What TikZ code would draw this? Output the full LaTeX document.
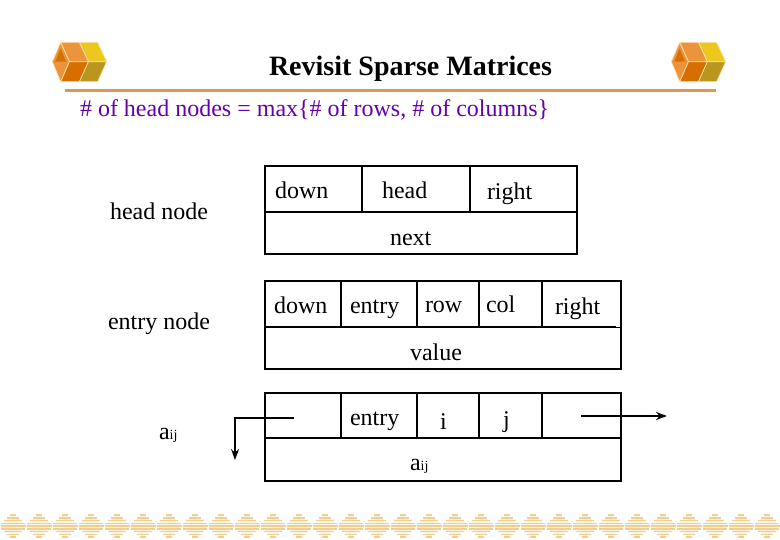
\documentclass[tikz,border=0pt]{standalone}
\usepackage{fontspec}
\setmainfont{Liberation Serif}
\definecolor{rulecol}{RGB}{222,152,84}
\definecolor{purp}{RGB}{102,0,170}
\definecolor{hexlight}{RGB}{236,148,60}
\definecolor{hexdark}{RGB}{214,110,0}
\definecolor{hexyellow}{RGB}{236,200,30}
\definecolor{hexolive}{RGB}{186,150,30}
\definecolor{hexedge}{RGB}{255,225,170}
\definecolor{stripe}{RGB}{238,206,145}
\definecolor{stripebg}{RGB}{252,243,225}
\tikzset{
  x=1pt,y=-1pt,
  lab/.style={anchor=base west,inner sep=0pt,outer sep=0pt,font=\fontsize{24}{24}\selectfont,text=black},
  ttl/.style={anchor=base west,inner sep=0pt,outer sep=0pt,font=\fontsize{28}{28}\selectfont\bfseries,text=black},
  sub/.style={anchor=base west,inner sep=0pt,outer sep=0pt,font=\fontsize{24}{24}\selectfont,text=purp},
  cell/.style={draw=black,line width=2pt,line join=miter},
  ptr/.style={draw=black,line width=1.6pt,-{Stealth[length=11pt,width=8pt]}},
  face/.style={draw=hexedge,line width=0.7pt,line join=round},
  stripeline/.style={draw=stripe,line width=1.5pt},
  headrule/.style={draw=rulecol,line width=3pt},
  logo/.pic={
    \begin{scope}[x=0.3333pt,y=-0.3333pt]
    \path[face,fill=hexyellow] (148,37)--(203,37)--(230,95)--(175,95)--cycle;
    \path[face,fill=hexolive] (175,95)--(230,95)--(203,155)--(148,155)--cycle;
    \path[face,fill=hexlight] (92,37)--(148,37)--(175,95)--(118,95)--cycle;
    \path[face,fill=hexdark] (118,95)--(175,95)--(148,155)--(92,155)--cycle;
    \path[face,fill=hexlight] (67,95)--(92,37)--(118,95)--(92,155)--cycle;
    \path[fill=hexdark] (92,55)--(108,95)--(76,95)--cycle;
    \end{scope}
  }
}
\usetikzlibrary{arrows.meta}
\newcommand{\aij}{a{\fontsize{14}{14}\selectfont ij}}
\begin{document}
\begin{tikzpicture}
\useasboundingbox (0,0) rectangle (780,540);
\pic at (30,30) {logo};
\pic at (649,30) {logo};
\draw[headrule] (65,90.5) -- (716,90.5);
\foreach \k in {0,...,29}{
  \pgfmathsetmacro{\cx}{13+26*\k}
  \fill[stripebg] (\cx-12.5,526) -- (\cx,514) -- (\cx+12.5,526) -- (\cx,538) -- cycle;
  \foreach \d in {-11,-8.25,-5.5,-2.75,0,2.75,5.5,8.25,11}{
    \pgfmathsetmacro{\hw}{min(12.5,14.5-abs(\d)*1.05)}
    \draw[stripeline] (\cx-\hw,526+\d) -- (\cx+\hw,526+\d);
  }
}
\node[ttl] (title) at (269,76) {Revisit Sparse Matrices};
\node[sub] (subt) at (80,117) {\# of head nodes = max\{\# of rows, \# of columns\}};
\node[lab] (hn) at (110,220) {head node};
\draw[cell] (265,166) rectangle (577,254);
\draw[cell] (265,212) -- (577,212);
\draw[cell] (362,166) -- (362,212);
\draw[cell] (470,166) -- (470,212);
\node[lab] (h1) at (275,199) {down};
\node[lab] (h2) at (382,199) {head};
\node[lab] (h3) at (487,200) {right};
\node[lab] (h4) at (390,246) {next};
\node[lab] (en) at (108,330) {entry node};
\draw[cell] (265,281) rectangle (621,369);
\draw[cell] (265,327) -- (616,327);
\draw[black,line width=0.8pt] (616,327) -- (621,327);
\foreach \x in {341,417,479,542}{\draw[cell] (\x,281) -- (\x,327);}
\node[lab] (e1) at (274,314) {down};
\node[lab] (e2) at (350,314) {entry};
\node[lab] (e3) at (425,313) {row};
\node[lab] (e4) at (486,313) {col};
\node[lab] (e5) at (555,315) {right};
\node[lab] (e6) at (410,360) {value};
\node[lab] (an) at (159,439) {\aij};
\draw[cell] (265,393) rectangle (621,481);
\draw[cell] (265,438) -- (621,438);
\foreach \x in {341,417,479,542}{\draw[cell] (\x,393) -- (\x,438);}
\node[lab] (a2) at (350,425) {entry};
\node[lab] (a3) at (440,429) {i};
\node[lab] (a4) at (503,428) {j};
\node[lab] (a6) at (410,470) {\aij};
\coordinate (ls) at (294,418);
\coordinate (lc) at (235,418);
\coordinate (le) at (235,460);
\coordinate (rs) at (581,416);
\coordinate (re) at (667,416);
\draw[ptr] (ls) -- (lc) -- (le);
\draw[ptr] (rs) -- (re);
\end{tikzpicture}
\end{document}
